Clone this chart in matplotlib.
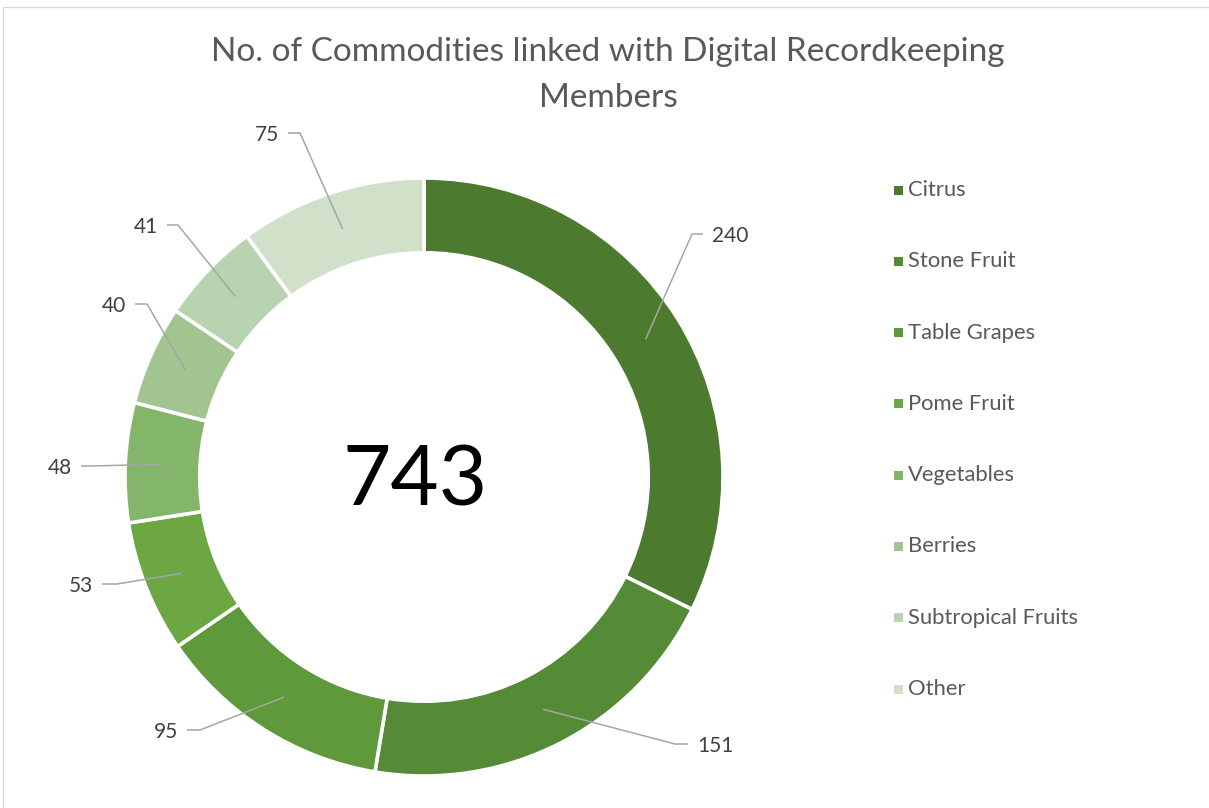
import matplotlib
matplotlib.use("Agg")
import matplotlib.pyplot as plt
from matplotlib.patches import Rectangle
import numpy as np

categories = ["Citrus", "Stone Fruit", "Table Grapes", "Pome Fruit",
              "Vegetables", "Berries", "Subtropical Fruits", "Other"]
values = [240, 151, 95, 53, 48, 40, 41, 75]
colors = ["#4C7A2E", "#558A36", "#5E993C", "#6CA743",
          "#83B56A", "#A1C490", "#B8D3AF", "#D0E0C9"]
title = "No. of Commodities linked with Digital Recordkeeping\nMembers"
total_text = "743"

W, H = 1209, 808
fig = plt.figure(figsize=(W / 100, H / 100), dpi=100)
ax = fig.add_axes([0, 0, 1, 1])

cx, cy, R = 424, H - 477, 299
wedges, _ = ax.pie(values, colors=colors, startangle=90, counterclock=False,
                   center=(cx, cy), radius=R,
                   wedgeprops=dict(width=R * 0.25, edgecolor="white", linewidth=2.6))
ax.set_xlim(0, W)
ax.set_ylim(0, H)
ax.set_aspect("equal")
ax.axis("off")

# layout of leader elbows / ends (pixel offsets from pie centre), text side
label_layout = [
    ((268, 243), (279, 243), "left"),
    ((251, -267), (264, -267), "left"),
    ((-224, -253), (-237, -253), "right"),
    ((-307, -107), (-322, -107), "right"),
    ((-334, 11), (-343, 11), "right"),
    ((-277, 173), (-289, 173), "right"),
    ((-246, 252), (-257, 252), "right"),
    ((-124, 344), (-136, 344), "right"),
]

lab_font = ["Lato", "DejaVu Sans"]
cum = np.cumsum([0] + values)
tot = sum(values)
rmid = 261
for i, v in enumerate(values):
    frac = (cum[i] + v / 2) / tot
    ang = np.deg2rad(90 - 360 * frac)
    ax_x = cx + rmid * np.cos(ang)
    ax_y = cy + rmid * np.sin(ang)
    (ex, ey), (tx, ty), side = label_layout[i]
    ex, ey, tx, ty = cx + ex, cy + ey, cx + tx, cy + ty
    ax.plot([ax_x, ex, tx], [ax_y, ey, ty], color="#A6A6A6", lw=1.1,
            solid_capstyle="butt", zorder=3)
    if side == "left":
        ax.text(tx + 9, ty - 2, str(v), ha="left", va="center", fontsize=15,
                color="#404040", family=lab_font)
    else:
        ax.text(tx - 9, ty - 2, str(v), ha="right", va="center", fontsize=15,
                color="#404040", family=lab_font)

ax.text(cx - 9, cy - 5, total_text, ha="center", va="center", fontsize=60,
        color="black", family=lab_font)

ax.text(608, H - 75, title, ha="center", va="center", fontsize=24,
        color="#595959", family=lab_font, linespacing=1.65)

# legend
ly0, dly = H - 190, 71.3
for i, (c, col) in enumerate(zip(categories, colors)):
    y = ly0 - i * dly
    ax.add_patch(Rectangle((894, y - 4.5), 9, 9, color=col, lw=0))
    ax.text(908, y, c, ha="left", va="center", fontsize=15.8, color="#595959",
            family=lab_font)

# chart border
ax.add_patch(Rectangle((3, -10), W + 10, H - 7 + 10, fill=False,
                       edgecolor="#D9D9D9", lw=1.0))

fig.savefig("out.png", dpi=100)
